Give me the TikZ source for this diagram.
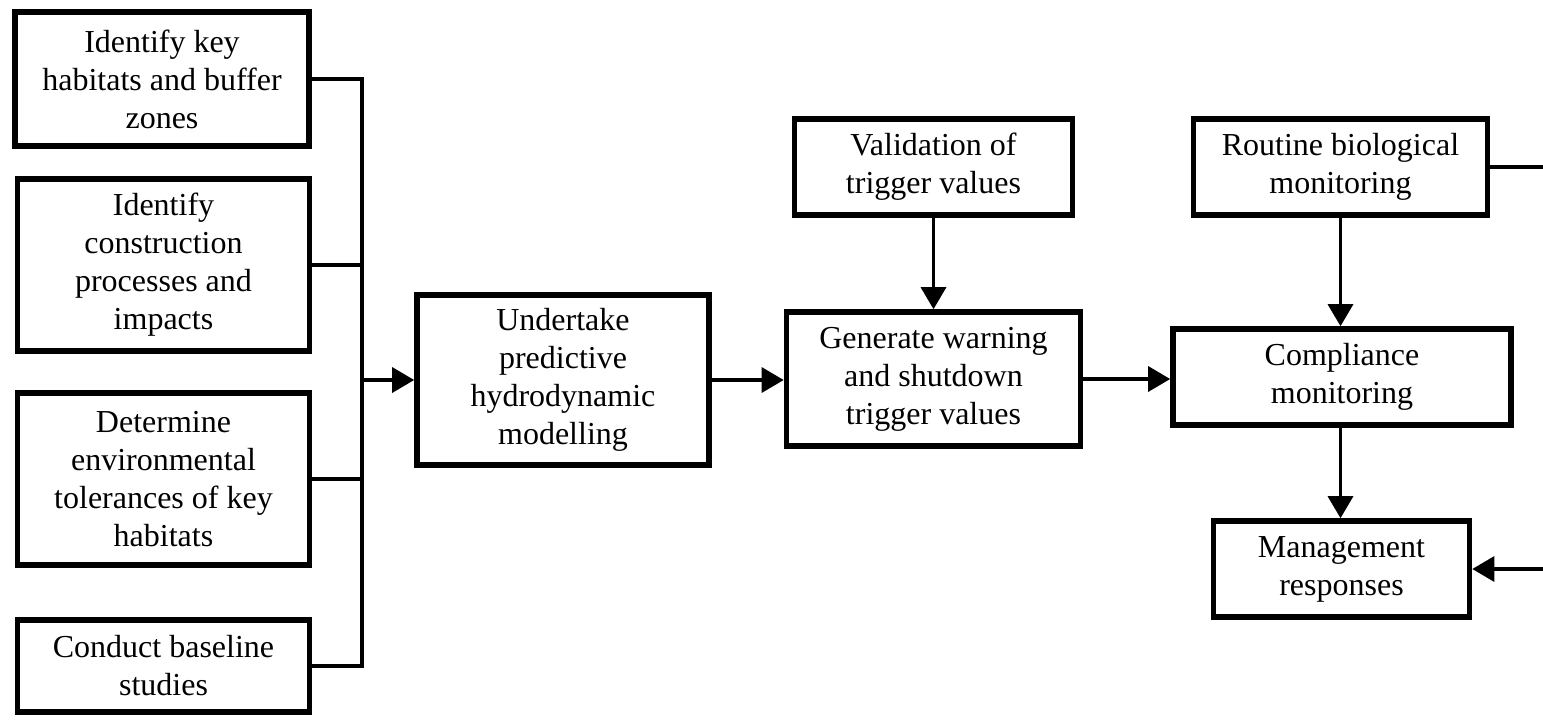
\documentclass[tikz,border=0pt]{standalone}
\usepackage{fontspec}
\setmainfont{Liberation Serif}
\usetikzlibrary{arrows.meta}

\begin{document}
\begin{tikzpicture}[x=0.5pt, y=-0.5pt,
  box/.style={draw, line width=2.8pt, align=center, inner sep=0pt,
              font=\fontsize{16}{19}\selectfont},
  link/.style={line width=1.6pt},
  arrow/.style={line width=1.6pt, -{Triangle[length=11pt,width=12.5pt]}}]

\useasboundingbox (0,0) rectangle (1543,719);

% -------- Left column -----------
\node (habitats) [box, minimum width=147pt, minimum height=67pt] at (162, 79)
      {Identify key\\habitats and buffer\\zones};
\node (processes) [box, minimum width=146pt, minimum height=86pt] at (163.5, 265)
      {Identify\\construction\\processes and\\impacts};
\node (tolerances) [box, minimum width=146pt, minimum height=86pt] at (163.5, 479)
      {Determine\\environmental\\tolerances of key\\habitats};
\node (baseline) [box, minimum width=146pt, minimum height=46pt] at (163.5, 666)
      {Conduct baseline\\studies};

% -------- Middle -----------
\node (modelling) [box, minimum width=146pt, minimum height=85pt] at (563, 380)
      {Undertake\\predictive\\hydrodynamic\\modelling};
\node (validation) [box, minimum width=139pt, minimum height=48pt] at (933.5, 167)
      {Validation of\\trigger values};
\node (triggers) [box, minimum width=147pt, minimum height=67pt] at (933.5, 379)
      {Generate warning\\and shutdown\\trigger values};

% -------- Right column -----------
\node (routine) [box, minimum width=147pt, minimum height=48pt] at (1340.5, 167)
      {Routine biological\\monitoring};
\node (compliance) [box, minimum width=169pt, minimum height=48pt] at (1342, 377)
      {Compliance\\monitoring};
\node (management) [box, minimum width=128pt, minimum height=48pt] at (1341.5, 569)
      {Management\\responses};

% bus on the left
\coordinate (bus) at (362, 380);
\coordinate (outR) at (1545, 167);
\coordinate (inR) at (1545, 569);

\draw [link] (habitats.east) -| (bus);
\draw [link] (baseline.east) -| (bus);
\draw [link] (processes.east) -- (processes.east -| bus);
\draw [link] (tolerances.east) -- (tolerances.east -| bus);
\draw [arrow] (bus) -- (modelling.west);

\draw [arrow] (modelling.east) -- (triggers.west |- modelling.east);
\draw [arrow] (validation.south) -- (triggers.north);
\draw [arrow] (triggers.east) -- (compliance.west |- triggers.east);

\draw [arrow] (routine.south) -- (routine.south |- compliance.north);
\draw [arrow] (compliance.south -| routine.south) -- (routine.south |- management.north);

% off to the right
\draw [link] (routine.east) -- (outR);
\draw [arrow] (inR) -- (management.east);

\end{tikzpicture}
\end{document}
